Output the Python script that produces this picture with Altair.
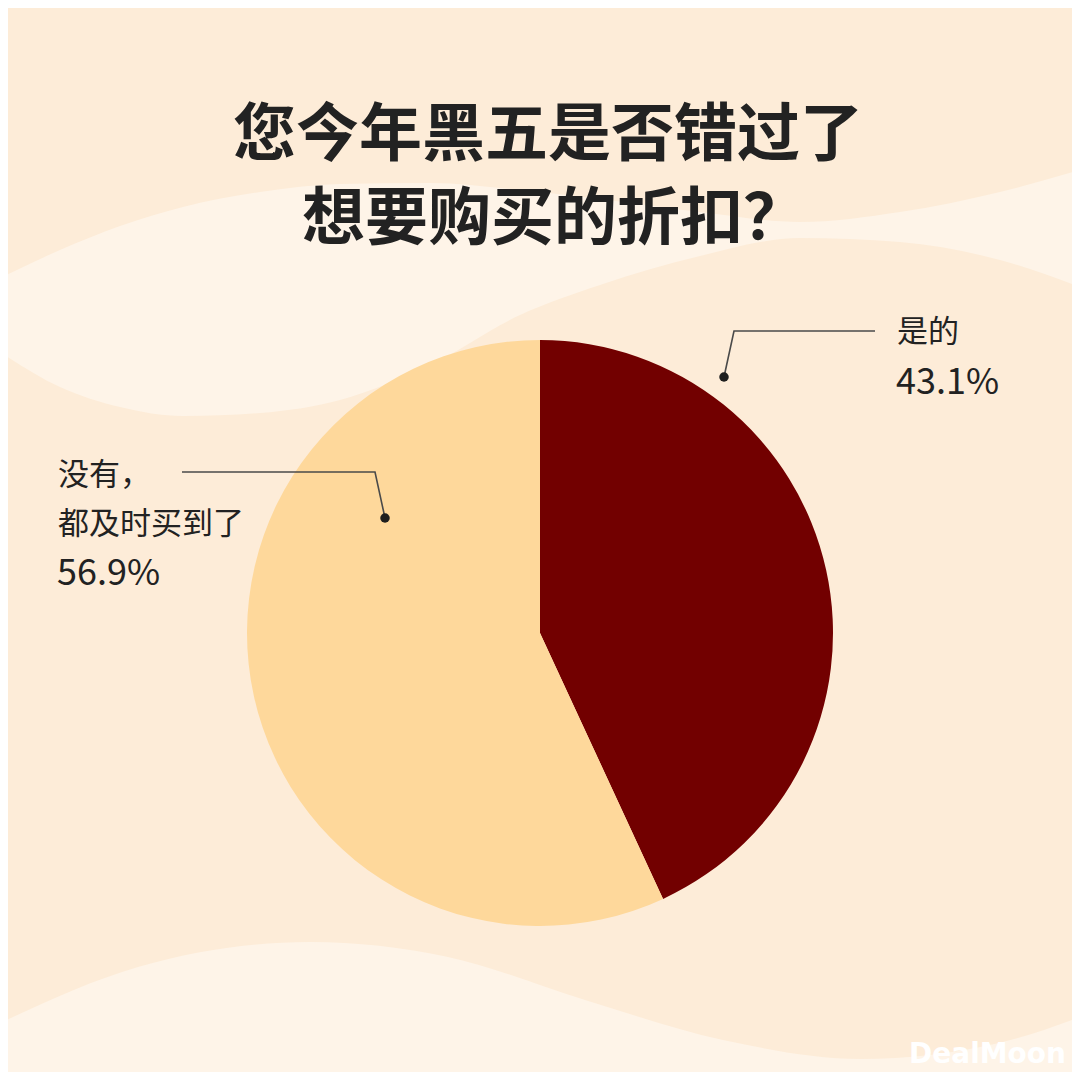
import altair as alt
import pandas as pd

# ---------------- data ----------------
categories = ["是的", "没有，都及时买到了"]
values = [43.1, 56.9]
slice_colors = ["#720000", "#FED89B"]
label_lines_yes = ["是的"]
label_lines_no = ["没有，", "都及时买到了"]
title_lines = ["您今年黑五是否错过了", "想要购买的折扣？"]
watermark = "DealMoon"

# decorative background waves (page pixel space)
wave_top_x = [0, 60, 120, 183, 260, 340, 430, 520, 600, 700, 800, 900, 1000, 1080]
wave_top_upper = [278, 250, 226, 207, 192, 184, 183, 190, 199, 212, 222, 212, 192, 170]
wave_top_lower = [352, 387, 407, 416, 413, 400, 365, 315, 285, 256, 238, 242, 260, 287]
wave_bot_x = [0, 138, 310, 448, 585, 723, 861, 999, 1080]
wave_bot_upper = [1023, 967, 942, 957, 1000, 1040, 1059, 1043, 1017]
wave_bot_lower = [1080, 1080, 1080, 1080, 1080, 1080, 1080, 1080, 1080]

BG = "#FDECD8"
BG_LIGHT = "#FEF4E8"
INK = "#222222"
OFF = 8  # page margin

xs = alt.Scale(domain=[OFF, 1080 - OFF], nice=False, zero=False)
ys = alt.Scale(domain=[OFF, 1080 - OFF], nice=False, zero=False, reverse=True)

def wave(xv, up, lo):
    df = pd.DataFrame({"x": xv, "y": up, "y2": lo})
    return alt.Chart(df).mark_area(color=BG_LIGHT, interpolate="monotone", clip=True).encode(
        x=alt.X("x:Q", scale=xs, axis=None),
        y=alt.Y("y:Q", scale=ys, axis=None),
        y2="y2:Q",
    )

waves = wave(wave_top_x, wave_top_upper, wave_top_lower) + wave(wave_bot_x, wave_bot_upper, wave_bot_lower)

pie_df = pd.DataFrame({"cat": categories, "value": values, "ord": list(range(len(values)))})
pie = alt.Chart(pie_df).mark_arc(outerRadius=293, strokeWidth=0).encode(
    theta=alt.Theta("value:Q", stack=True),
    color=alt.Color("cat:N", scale=alt.Scale(domain=categories, range=slice_colors), legend=None),
    order=alt.Order("ord:Q"),
    x=alt.value(540 - OFF),
    y=alt.value(633 - OFF),
)

# leader lines (annotation layout)
leader_df = pd.DataFrame({
    "x": [724, 734, 875, 385, 375, 182],
    "y": [377, 331, 331, 518, 472, 472],
    "grp": ["a", "a", "a", "b", "b", "b"],
    "i": [0, 1, 2, 0, 1, 2],
})
leaders = alt.Chart(leader_df).mark_line(color="#4a4a4a", strokeWidth=1.6).encode(
    x=alt.X("x:Q", scale=xs, axis=None),
    y=alt.Y("y:Q", scale=ys, axis=None),
    detail="grp:N",
    order="i:Q",
)
dots = alt.Chart(leader_df[leader_df["i"] == 0]).mark_circle(color="#1e1e1e", size=90, opacity=1).encode(
    x=alt.X("x:Q", scale=xs, axis=None),
    y=alt.Y("y:Q", scale=ys, axis=None),
)

def txt(s, x, y, size, weight="normal", align="left", color=INK, font="Noto Sans CJK SC"):
    return alt.Chart(pd.DataFrame({"t": [s]})).mark_text(
        text=s, font=font, fontSize=size, fontWeight=weight, align=align,
        baseline="middle", color=color,
    ).encode(x=alt.value(x - OFF), y=alt.value(y - OFF))

layers = [waves, pie, leaders, dots]
layers.append(txt(title_lines[0], 548, 136, 63, "bold", "center"))
layers.append(txt(title_lines[1], 554, 220, 63, "bold", "center"))
layers.append(txt(label_lines_yes[0], 897, 333, 31))
layers.append(txt(f"{values[0]:.1f}%", 896, 383, 36))
layers.append(txt(label_lines_no[0], 58, 476, 31))
layers.append(txt(label_lines_no[1], 58, 525, 31))
layers.append(txt(f"{values[1]:.1f}%", 57, 574, 36))
layers.append(txt(watermark, 1066, 1055, 28, "bold", "right", "#FFFFFF", "DejaVu Sans"))

chart = alt.layer(*layers).properties(
    width=1080 - 2 * OFF, height=1080 - 2 * OFF, padding=0, autosize="none",
).configure(background=BG).configure_view(stroke=None)

chart.save("out.html", embed_options={"renderer": "svg", "actions": False})
